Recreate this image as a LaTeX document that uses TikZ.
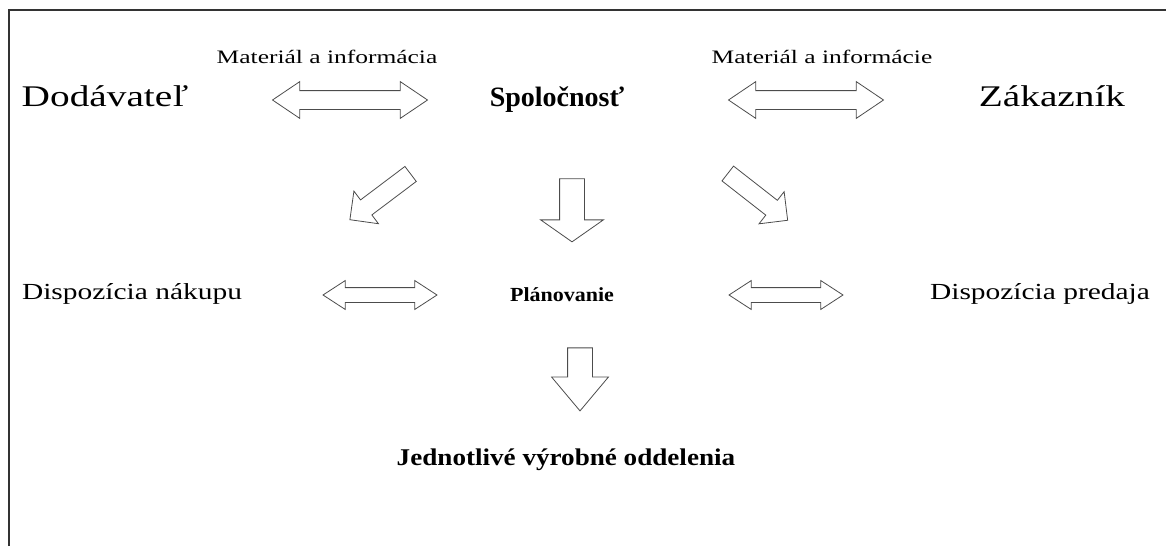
\documentclass[tikz,border=0pt]{standalone}
\usepackage{fontspec}
\setmainfont{Liberation Serif}
\usetikzlibrary{shapes.arrows}

\tikzset{
    bigname/.style={font=\fontsize{30}{36}\selectfont, xscale=1.31, anchor=base},
    midname/.style={font=\fontsize{23}{28}\selectfont, xscale=1.28, anchor=base},
    flowlabel/.style={font=\fontsize{19}{23}\selectfont, xscale=1.34},
    twoway/.style={double arrow, draw=black!70, line width=0.8pt, inner xsep=0pt,
        inner ysep=#1, double arrow head extend=#1},
    wideway/.style={twoway=9pt, double arrow tip angle=68, minimum height=155pt},
    shortway/.style={twoway=7pt, double arrow tip angle=66, minimum height=114pt},
    blockdown/.style={single arrow, draw=black!70, line width=0.8pt, inner xsep=0pt,
        inner ysep=12pt, minimum height=63pt},
    slantarrow/.style={single arrow, draw=black!70, line width=0.8pt, inner xsep=0pt,
        inner ysep=9pt, single arrow head extend=11pt, minimum height=76pt},
}

\begin{document}
\begin{tikzpicture}[x=1pt,y=-1pt]
        \useasboundingbox (0,0) rectangle (1166,546);
        \draw[line width=2pt, black!80] (9,546) -- (9,10) -- (1166,10);

        % top row
        \node[bigname] (dod) at (105,106) {Dodávateľ};
        \node[font=\fontsize{28}{34}\selectfont\bfseries] (spol) at (557,100) {Spoločnosť};
        \node[bigname] (zak) at (1052,106) {Zákazník};
        \node[flowlabel] (matL) at (327,57) {Materiál a informácia};
        \node[flowlabel] (matR) at (822,57) {Materiál a informácie};
        \node[wideway] (arrTL) at (350,100) {};
        \node[wideway] (arrTR) at (806,100) {};

        % towards planning
        \node[blockdown, single arrow head extend=19pt, single arrow tip angle=110, rotate=-90] (downA) at (572,206) {};
        \node[slantarrow, rotate=217] (diagL) at (384,194) {};
        \node[slantarrow, rotate=-38] (diagR) at (754,194) {};

        % middle row
        \node[midname] (nakup) at (132,299) {Dispozícia nákupu};
        \node[font=\fontsize{20}{24}\selectfont\bfseries, xscale=1.1] (plan) at (562,295) {Plánovanie};
        \node[midname] (predaj) at (1040,299) {Dispozícia predaja};
        \node[shortway] (arrML) at (380,295) {};
        \node[shortway] (arrMR) at (786,295) {};

        % bottom
        \node[blockdown, single arrow head extend=16pt, single arrow tip angle=80, rotate=-90] (downB) at (580,372) {};
        \node[font=\fontsize{24}{29}\selectfont\bfseries, xscale=1.13, anchor=base] (odd) at (566,465) {Jednotlivé výrobné oddelenia};
\end{tikzpicture}
\end{document}
